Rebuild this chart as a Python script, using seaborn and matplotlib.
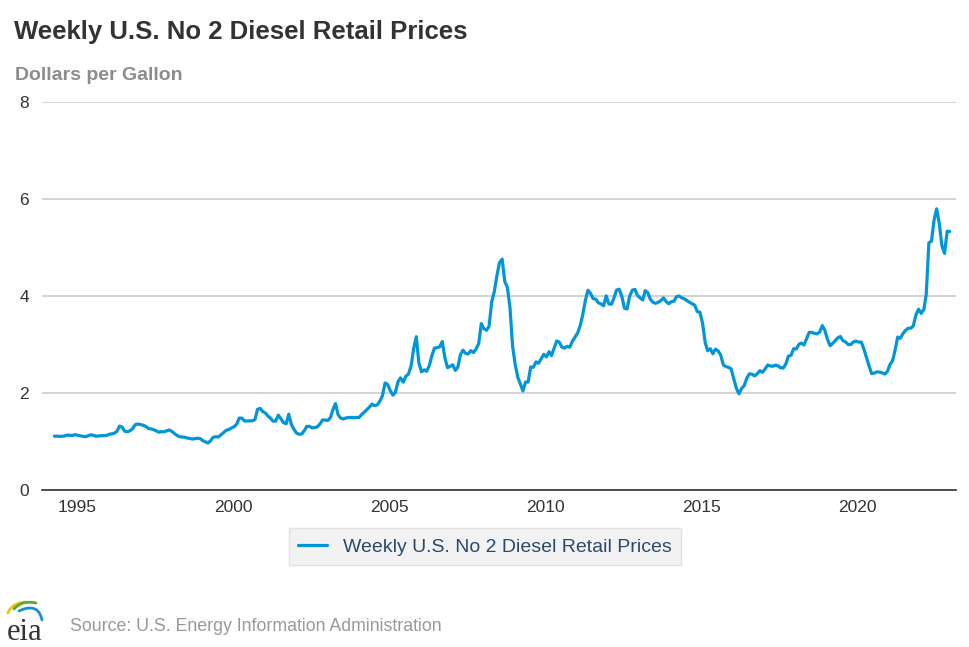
import numpy as np
import pandas as pd
import matplotlib
matplotlib.use("Agg")
import matplotlib.pyplot as plt
import seaborn as sns

# monthly U.S. No 2 diesel retail prices, dollars per gallon, from March 1994
start_month = "1994-03-15"
diesel_prices = [
    1.106, 1.107, 1.102, 1.104, 1.113, 1.131, 1.122, 1.123, 1.137, 1.123,  # 1994
    1.113, 1.103, 1.095, 1.116, 1.135, 1.125, 1.105, 1.110, 1.117, 1.116, 1.122, 1.145,  # 1995
    1.155, 1.168, 1.207, 1.315, 1.292, 1.208, 1.198, 1.219, 1.262, 1.345, 1.358, 1.345,  # 1996
    1.334, 1.310, 1.270, 1.259, 1.243, 1.220, 1.190, 1.199, 1.196, 1.216, 1.234, 1.208,  # 1997
    1.162, 1.127, 1.096, 1.089, 1.084, 1.068, 1.061, 1.047, 1.055, 1.064, 1.057, 1.012,  # 1998
    0.987, 0.965, 1.013, 1.083, 1.095, 1.090, 1.135, 1.180, 1.228, 1.245, 1.275, 1.301,  # 1999
    1.356, 1.480, 1.479, 1.422, 1.420, 1.424, 1.422, 1.449, 1.660, 1.680, 1.615, 1.585,  # 2000
    1.519, 1.480, 1.415, 1.418, 1.540, 1.466, 1.387, 1.362, 1.560, 1.348, 1.249, 1.167,  # 2001
    1.147, 1.151, 1.221, 1.309, 1.309, 1.277, 1.286, 1.299, 1.358, 1.441, 1.440, 1.431,  # 2002
    1.488, 1.654, 1.780, 1.551, 1.479, 1.461, 1.482, 1.491, 1.494, 1.485, 1.494, 1.492,  # 2003
    1.555, 1.600, 1.654, 1.704, 1.769, 1.736, 1.750, 1.829, 1.941, 2.205, 2.174, 2.045,  # 2004
    1.954, 2.007, 2.232, 2.310, 2.220, 2.343, 2.386, 2.554, 2.913, 3.160, 2.619, 2.434,  # 2005
    2.477, 2.446, 2.557, 2.759, 2.924, 2.933, 2.949, 3.060, 2.727, 2.520, 2.547, 2.579,  # 2006
    2.464, 2.526, 2.788, 2.881, 2.814, 2.804, 2.872, 2.834, 2.908, 3.020, 3.430, 3.324,  # 2007
    3.293, 3.376, 3.879, 4.090, 4.420, 4.689, 4.760, 4.298, 4.182, 3.754, 2.967, 2.581,  # 2008
    2.317, 2.189, 2.040, 2.222, 2.225, 2.535, 2.527, 2.641, 2.611, 2.707, 2.795, 2.745,  # 2009
    2.850, 2.769, 2.922, 3.071, 3.047, 2.944, 2.924, 2.962, 2.944, 3.065, 3.150, 3.238,  # 2010
    3.395, 3.609, 3.905, 4.120, 4.055, 3.946, 3.934, 3.860, 3.837, 3.798, 4.003, 3.835,  # 2011
    3.831, 3.960, 4.124, 4.140, 3.990, 3.750, 3.732, 4.000, 4.119, 4.137, 4.010, 3.961,  # 2012
    3.918, 4.111, 4.069, 3.930, 3.870, 3.849, 3.872, 3.905, 3.961, 3.885, 3.839, 3.882,  # 2013
    3.893, 3.984, 4.001, 3.964, 3.943, 3.906, 3.872, 3.839, 3.812, 3.678, 3.665, 3.436,  # 2014
    3.038, 2.871, 2.912, 2.808, 2.902, 2.869, 2.783, 2.577, 2.543, 2.527, 2.497, 2.289,  # 2015
    2.092, 1.980, 2.092, 2.146, 2.302, 2.394, 2.387, 2.351, 2.394, 2.459, 2.424, 2.493,  # 2016
    2.575, 2.557, 2.550, 2.573, 2.559, 2.517, 2.512, 2.596, 2.759, 2.776, 2.913, 2.907,  # 2017
    3.004, 3.027, 2.988, 3.116, 3.249, 3.250, 3.229, 3.218, 3.255, 3.390, 3.292, 3.105,  # 2018
    2.974, 3.018, 3.075, 3.137, 3.164, 3.079, 3.051, 2.996, 3.000, 3.053, 3.069, 3.048,  # 2019
    3.048, 2.910, 2.729, 2.558, 2.397, 2.410, 2.434, 2.429, 2.414, 2.389, 2.441, 2.585,  # 2020
    2.668, 2.874, 3.153, 3.125, 3.221, 3.288, 3.335, 3.334, 3.384, 3.612, 3.727, 3.641,  # 2021
    3.721, 4.033, 5.100, 5.130, 5.571, 5.800, 5.494, 5.030, 4.880, 5.338, 5.330,  # 2022
]
year_ticks = ["1995", "2000", "2005", "2010", "2015", "2020"]
y_ticks = [0, 2, 4, 6, 8]
series_name = "Weekly U.S. No 2 Diesel Retail Prices"

df = pd.DataFrame({
    "date": pd.date_range(start_month, periods=len(diesel_prices), freq="MS") + pd.Timedelta(days=14),
    "price": diesel_prices,
})

sns.set_style("white")
plt.rcParams["font.family"] = ["Liberation Sans", "DejaVu Sans"]

fig = plt.figure(figsize=(9.7, 6.47), dpi=100)
ax = fig.add_axes([0.043, 0.243, 0.943, 0.599])

blue = "#0096d7"
sns.lineplot(data=df, x="date", y="price", ax=ax, color=blue, linewidth=2.3,
             label=series_name, legend=False)

ax.set_ylim(0, 8)
ax.set_yticks(y_ticks)
ax.set_xlim(pd.Timestamp("1993-11-17"), pd.Timestamp("2023-03-03"))
ax.set_xticks([pd.Timestamp(f"{y}-01-01") for y in year_ticks])
ax.set_xticklabels(year_ticks)
ax.grid(axis="y", color="#cccccc", linewidth=1.2)
ax.set_axisbelow(True)
for s in ["top", "right", "left"]:
    ax.spines[s].set_visible(False)
ax.spines["bottom"].set_color("#333333")
ax.spines["bottom"].set_linewidth(1.2)
ax.tick_params(axis="x", length=5, width=1, color="#333333", labelsize=12.5,
               labelcolor="#333333", pad=2)
ax.tick_params(axis="y", length=0, labelsize=12.5, labelcolor="#333333", pad=9)
ax.set_xlabel("")
ax.set_ylabel("")

fig.text(0.014, 0.9505, "Weekly U.S. No 2 Diesel Retail Prices", fontsize=18.5,
         fontweight="bold", color="#333333", va="center")
fig.text(0.015, 0.884, "Dollars per Gallon", fontsize=14, fontweight="bold",
         color="#8c8c8c", va="center")

leg = fig.legend(handles=ax.get_lines()[:1], labels=[series_name], loc="center",
                 bbox_to_anchor=(0.5, 0.155), frameon=True, fontsize=14,
                 handlelength=1.5, borderpad=0.5, fancybox=False)
leg.get_frame().set_facecolor("#efefef")
leg.get_frame().set_edgecolor("#dddddd")
for t in leg.get_texts():
    t.set_color("#2b4a6b")

fig.text(0.072, 0.032, "Source: U.S. Energy Information Administration", fontsize=12.8,
         color="#999999", va="center")

# eia logo, drawn in a small axes using pixel-like coordinates
lax = fig.add_axes([0, 2 / 647, 60 / 970, 50 / 647])
lax.set_xlim(0, 60)
lax.set_ylim(645, 595)
lax.axis("off")
lax.text(7, 640, "eia", fontsize=22, family="Liberation Serif", color="#333333",
         va="baseline", ha="left")


def bezier(p0, p1, p2, n=30):
    t = np.linspace(0, 1, n)[:, None]
    pts = (1 - t) ** 2 * np.array(p0) + 2 * (1 - t) * t * np.array(p1) + t ** 2 * np.array(p2)
    return pts[:, 0], pts[:, 1]


for (p0, p1, p2), c in [
    (((8, 613), (12, 603), (26, 602)), "#f5c400"),
    (((14, 609), (22, 600), (36, 603)), "#5aaa32"),
    (((19, 611), (38, 602), (42, 620)), "#1a8fd0"),
]:
    xs, ys = bezier(p0, p1, p2)
    lax.plot(xs, ys, color=c, lw=2, solid_capstyle="round")

fig.savefig("out.png", dpi=100)
